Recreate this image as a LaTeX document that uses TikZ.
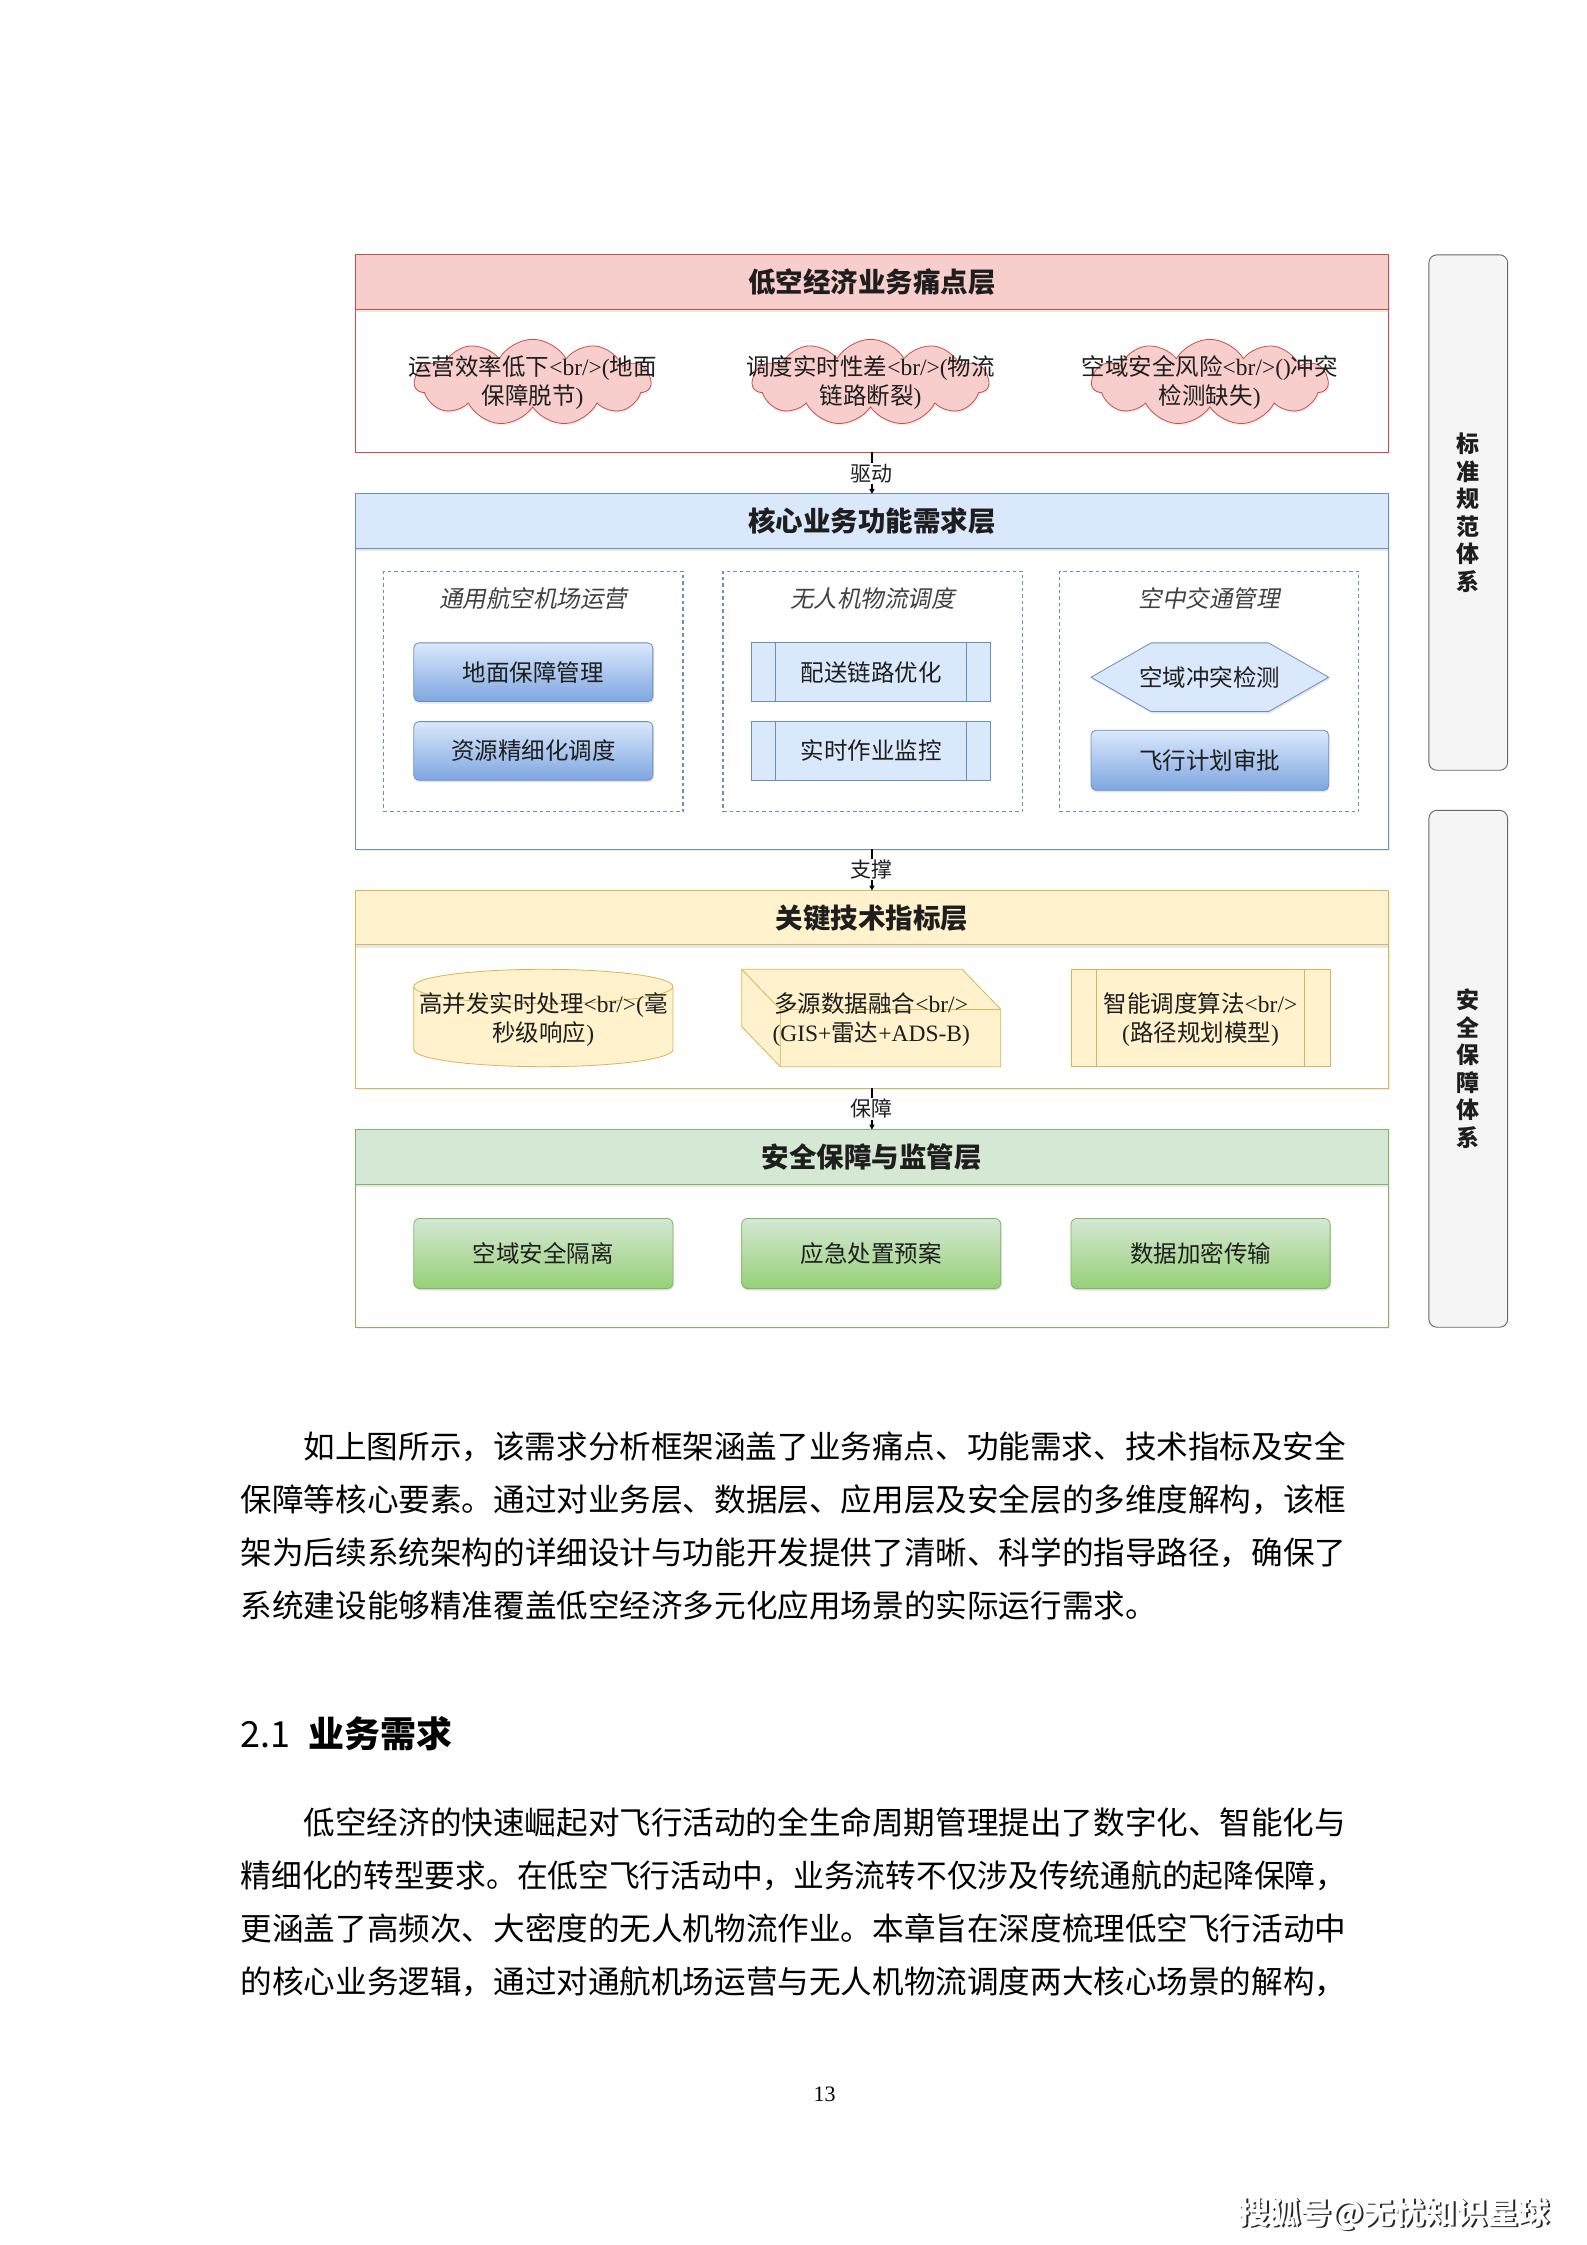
\documentclass[tikz,border=0pt]{standalone}
\usepackage{fontspec}
\usepackage{graphicx}
\setmainfont{Noto Sans CJK SC}
\newfontfamily\tms{Liberation Serif}
\newfontfamily\cjkit[FakeSlant=0.2]{Noto Sans CJK SC}
\usetikzlibrary{shapes.symbols,shapes.geometric,shadows,arrows.meta,calc}
\newlength\uu \setlength\uu{1.4323pt}
\newcommand\fsz[2]{\fontsize{#1}{#2}\selectfont}
\newcommand\BRtag{{\tms<br/>}}
\newcommand\LPn{{\tms(}}
\newcommand\RPn{{\tms)}}
\definecolor{painF}{HTML}{F8CECC}\definecolor{painD}{HTML}{C8504B}
\definecolor{coreF}{HTML}{DAE8FC}\definecolor{coreD}{HTML}{6C8EBF}\definecolor{coreG}{HTML}{7EA6E0}
\definecolor{techF}{HTML}{FFF2CC}\definecolor{techD}{HTML}{D6B656}
\definecolor{secF}{HTML}{D5E8D4}\definecolor{secD}{HTML}{82B366}\definecolor{secG}{HTML}{97D077}
\definecolor{sideF}{HTML}{F5F5F5}\definecolor{sideD}{HTML}{666666}
\definecolor{txtc}{HTML}{1E1E1E}
\tikzset{
  lay/.style={draw, line width=1pt, fill=white, anchor=north west, inner sep=0, outer sep=0, minimum width=722\uu,
    drop shadow={shadow xshift=1.5pt, shadow yshift=-2pt, opacity=0.12}},
  hdr/.style={draw, line width=1pt, anchor=north west, inner sep=0, outer sep=0, minimum width=722\uu, minimum height=38\uu,
    font=\fsz{27.5}{33}\bfseries, text=txtc, drop shadow={shadow xshift=0pt, shadow yshift=-3pt, opacity=0.18}},
  txt/.style={align=center, font=\fsz{23.5}{29}, inner sep=0, text=txtc},
  lbl/.style={fill=white, inner sep=1pt, font=\fsz{21}{25}, text=txtc},
  conn/.style={-{Triangle[length=5pt,width=5pt]}, line width=1.2pt, black},
  cloudS/.style={cloud, cloud puffs=11, cloud puff arc=120, aspect=2.7, draw=painD, fill=painF, line width=0.8pt,
    minimum width=165\uu, minimum height=60\uu, inner sep=0, drop shadow={shadow xshift=1pt, shadow yshift=-2pt, opacity=0.15}},
  grp/.style={draw=coreD, dash pattern=on 3.5pt off 3pt, line width=1.1pt, anchor=north west, inner sep=0, outer sep=0,
    minimum width=209\uu, minimum height=168\uu},
  gtitle/.style={font=\cjkit\fsz{23.5}{29}, text=black!75, inner sep=0},
  bluebox/.style={rounded corners=5pt, draw=coreD, line width=0.8pt, top color=coreF, bottom color=coreG, outer sep=0,
    minimum width=167\uu, minimum height=41\uu, txt, drop shadow={shadow xshift=1pt, shadow yshift=-2pt, opacity=0.2}},
  procbox/.style={draw=coreD, line width=0.8pt, fill=coreF, outer sep=0, minimum width=167\uu, minimum height=41\uu, txt},
  greenbox/.style={rounded corners=6pt, draw=secD, line width=0.8pt, top color=secF, bottom color=secG, outer sep=0,
    minimum width=181\uu, minimum height=49\uu, txt, drop shadow={shadow xshift=1pt, shadow yshift=-2pt, opacity=0.2}},
  side/.style={rounded corners=8pt, draw=sideD, fill=sideF, line width=0.9pt, anchor=north west, outer sep=0, inner sep=0,
    minimum width=55\uu, align=center, font=\fsz{23}{27.5}\bfseries, text=txtc},
  body/.style={anchor=base west, inner sep=0, font=\fsz{31.6}{40}, text=black},
}
\begin{document}
\begin{tikzpicture}[x=1.4323pt,y=-1.4323pt]
\useasboundingbox[fill=white] (0,0) rectangle (1108,1568);

% ---------- pain layer
\node[lay, draw=painD, minimum height=138\uu] (pain) at (248,178) {};
\node[hdr, draw=painD, fill=painF] (painH) at (248,178) {低空经济业务痛点层};
\node[cloudS] (c1) at (372,267) {};
\node[txt] (c1t) at (c1) {运营效率低下\BRtag\LPn 地面\\保障脱节\RPn};
\node[cloudS] (c2) at (608,267) {};
\node[txt] (c2t) at (c2) {调度实时性差\BRtag\LPn 物流\\链路断裂\RPn};
\node[cloudS] (c3) at (845,267) {};
\node[txt] (c3t) at (c3) {空域安全风险\BRtag\LPn\RPn 冲突\\检测缺失\RPn};

% ---------- core layer
\node[lay, draw=coreD, minimum height=248\uu] (core) at (248,345) {};
\node[hdr, draw=coreD, fill=coreF] (coreH) at (248,345) {核心业务功能需求层};
\node[grp] (g1) at (268,399) {};
\node[grp] (g2) at (505,399) {};
\node[grp] (g3) at (740,399) {};
\node[gtitle] (g1t) at (372.5,418) {通用航空机场运营};
\node[gtitle] (g2t) at (609.5,418) {无人机物流调度};
\node[gtitle] (g3t) at (844.5,418) {空中交通管理};
\node[bluebox] (b1) at (372.5,469.5) {地面保障管理};
\node[bluebox] (b2) at (372.5,524.5) {资源精细化调度};
\node[procbox] (p1) at (608.5,469.5) {配送链路优化};
\node[procbox] (p2) at (608.5,524.5) {实时作业监控};
\foreach \p in {p1,p2}{
  \draw[draw=coreD, line width=0.8pt] ($(\p.north west)+(16.7,0)$) -- ($(\p.south west)+(16.7,0)$);
  \draw[draw=coreD, line width=0.8pt] ($(\p.north east)+(-16.7,0)$) -- ($(\p.south east)+(-16.7,0)$);
}
\coordinate (hexc) at (845,473);
\draw[draw=coreD, fill=coreF, line width=0.8pt, drop shadow={shadow xshift=1pt, shadow yshift=-2pt, opacity=0.2}]
  ($(hexc)+(-83,0)$) -- ($(hexc)+(-41,-24)$) -- ($(hexc)+(41,-24)$) -- ($(hexc)+(83,0)$)
  -- ($(hexc)+(41,24)$) -- ($(hexc)+(-41,24)$) -- cycle;
\node[txt] (hex) at (hexc) {空域冲突检测};
\node[bluebox, minimum width=166\uu, minimum height=42\uu] (b3) at (845,531) {飞行计划审批};

% ---------- tech layer
\node[lay, draw=techD, minimum height=138\uu] (tech) at (248,622) {};
\node[hdr, draw=techD, fill=techF] (techH) at (248,622) {关键技术指标层};
% cylinder
\coordinate (cylc) at (379.5,711);
\draw[draw=techD, fill=techF, line width=0.8pt]
  (289,689) -- (289,733) arc[start angle=180, end angle=360, x radius=90.5\uu, y radius=12\uu]
  -- (470,689) arc[start angle=0, end angle=180, x radius=90.5\uu, y radius=12\uu] -- cycle;
\draw[draw=techD, line width=0.8pt] (289,689) arc[start angle=180, end angle=360, x radius=90.5\uu, y radius=12\uu];
\node[txt] (cyl) at (379.5,712) {高并发实时处理\BRtag\LPn 毫\\秒级响应\RPn};
% cube
\draw[draw=techD, fill=techF, line width=0.8pt]
  (518,677) -- (672,677) -- (699,705) -- (699,745) -- (545,745) -- (518,717) -- cycle;
\draw[draw=techD, line width=0.8pt] (518,677) -- (545,705) -- (699,705) (545,705) -- (545,745);
\node[txt] (cube) at (608.5,712) {多源数据融合\BRtag\\{\tms(GIS+}雷达{\tms+ADS-B)}};
% process
\node[draw=techD, fill=techF, line width=0.8pt, outer sep=0, minimum width=181\uu, minimum height=68\uu] (alg) at (838.5,711) {};
\draw[draw=techD, line width=0.8pt] ($(alg.north west)+(18,0)$) -- ($(alg.south west)+(18,0)$);
\draw[draw=techD, line width=0.8pt] ($(alg.north east)+(-18,0)$) -- ($(alg.south east)+(-18,0)$);
\node[txt] (algt) at (838.5,712) {智能调度算法\BRtag\\\LPn 路径规划模型\RPn};

% ---------- security layer
\node[lay, draw=secD, minimum height=138\uu] (sec) at (248,789) {};
\node[hdr, draw=secD, fill=secF] (secH) at (248,789) {安全保障与监管层};
\node[greenbox] (s1) at (379.5,875.5) {空域安全隔离};
\node[greenbox] (s2) at (608.5,875.5) {应急处置预案};
\node[greenbox] (s3) at (838.5,875.5) {数据加密传输};

% ---------- connectors
\draw[conn] (pain.south) -- node[lbl] (l1) {驱动} (core.north);
\draw[conn] (core.south) -- node[lbl] (l2) {支撑} (tech.north);
\draw[conn] (tech.south) -- node[lbl] (l3) {保障} (sec.north);

% ---------- side boxes
\node[side, minimum height=360\uu] (std) at (998,178) {标\\准\\规\\范\\体\\系};
\node[side, minimum height=361\uu] (saf) at (998,566) {安\\全\\保\\障\\体\\系};

% ---------- body text
\node[body] (t1) at (212,1018.4) {如上图所示，该需求分析框架涵盖了业务痛点、功能需求、技术指标及安全};
\node[body] (t2) at (168,1055.4) {保障等核心要素。通过对业务层、数据层、应用层及安全层的多维度解构，该框};
\node[body] (t3) at (168,1092.4) {架为后续系统架构的详细设计与功能开发提供了清晰、科学的指导路径，确保了};
\node[body] (t4) at (168,1129.4) {系统建设能够精准覆盖低空经济多元化应用场景的实际运行需求。};
\node[anchor=base west, inner sep=0, font=\fsz{36}{40}] (h21) at (168,1220.5) {2.1\hspace{0.5em}\bfseries 业务需求};
\node[body] (u1) at (212,1281.4) {低空经济的快速崛起对飞行活动的全生命周期管理提出了数字化、智能化与};
\node[body] (u2) at (168,1318.4) {\scalebox{0.9722}[1]{精细化的转型要求。在低空飞行活动中，业务流转不仅涉及传统通航的起降保障，}};
\node[body] (u3) at (168,1355.4) {更涵盖了高频次、大密度的无人机物流作业。本章旨在深度梳理低空飞行活动中};
\node[body] (u4) at (168,1392.4) {的核心业务逻辑，通过对通航机场运营与无人机物流调度两大核心场景的解构，};
\node[font=\tms\fsz{22}{24}, inner sep=0] (pg) at (576,1463) {13};
\node[anchor=base west, inner sep=0, font=\fsz{31}{35}\bfseries, text=black!85] (wms) at (866.3,1554.6) {搜狐号@无忧知识星球};
\node[anchor=base west, inner sep=0, font=\fsz{31}{35}\bfseries, text=white] (wm) at (865,1553.4) {搜狐号@无忧知识星球};
\end{tikzpicture}
\end{document}
